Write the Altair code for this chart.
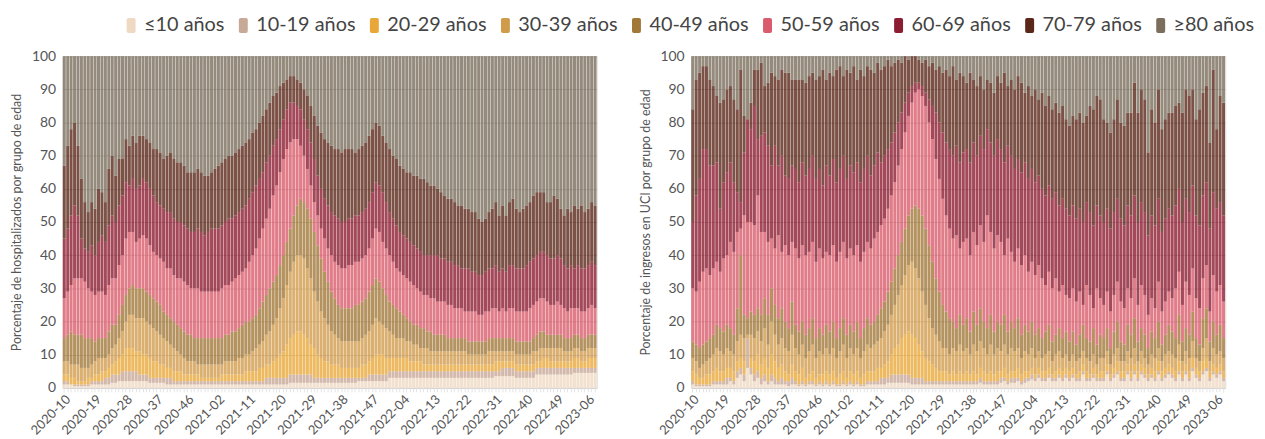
import json
import altair as alt
import pandas as pd

# ---------------- categories ----------------
GROUPS = ["≤10 años", "10-19 años", "20-29 años", "30-39 años", "40-49 años",
          "50-59 años", "60-69 años", "70-79 años", "≥80 años"]
COLORS = ["#f0d9c3", "#c8a897", "#e9a73a", "#d19b4c", "#a17838",
          "#d95b6c", "#8c1c31", "#5b2719", "#7b6e5d"]
TICK_LABELS = ["2020-10", "2020-19", "2020-28", "2020-37", "2020-46", "2021-02",
               "2021-11", "2021-20", "2021-29", "2021-38", "2021-47", "2022-04",
               "2022-13", "2022-22", "2022-31", "2022-40", "2022-49", "2023-06"]
YEAR_WEEKS = {2020: 53, 2021: 52, 2022: 52, 2023: 52}
N_WEEKS = 156
WEEKS = []
_y, _w = 2020, 10
while len(WEEKS) < N_WEEKS:
    WEEKS.append(f"{_y}-{_w:02d}")
    _w += 1
    if _w > YEAR_WEEKS[_y]:
        _y, _w = _y + 1, 1

# ------------- hospitalizations: cumulative upper edge of each age band (%) -------------
H_LE10 = [1,1,1,0.5,0.5,0.5,0.5,0.5,1,1, 1,1,1,1,1.5,1.5,2,2,2,2, 2,2,2,2,2,1.5,1.5,1.5,1.5,1.5,
          1,1,1,1,1,1,1,1,1,1, 1,1,1,1,1,1,1,1,1,1, 1,1,1,1,1,1,1,1,1,1,
          1,1,1,1,1,1,1.5,1.5,1.5,1.5, 1.5,1.5,1.5,1.5,1.5,1.5,1.5,1.5,1.5,1.5, 1.5,1.5,1.5,1.5,1.5,1.5,2,2,2,2,
          2,2,2,2,2,3,3,3,3,3, 3,3,3,3,3,3,3,3,3,3, 3,3,3,3,3,3,3,3,3,3,
          3,3,3,3,3,3,3.5,3.5,3.5,3.5, 3.5,3.5,3,3,3,3,3,3,4,4, 4,4,4,4,4,4,4,4,4,4.5,
          4.5,4.5,4.5,4.5,4.5,4.5]
H_10_19 = [2,2,1,1,1,1,1,1,2,2, 2,2,3,3,4,4,4,5,5,5, 5,5,4,4,4,3,3,3,3,3,
           3,3,2,2,2,2,2,2,2,2, 2,2,2,2,2,2,2,2,2,2, 2,2,2,2,2,2,2,2,2,3,
           3,3,3,3,3,3,4,4,4,4, 4,4,4,3,3,3,3,3,3,3, 3,3,3,3,3,3,3,3,3,4,
           4,4,4,4,4,5,5,5,5,5, 5,5,5,5,5,5,5,5,5,5, 5,5,5,5,5,5,5,5,5,5,
           5,5,5,5,5,5,5,5,6,6, 6,6,5,5,5,5,5,5,6,6, 6,6,6,6,6,6,6,6,6,6,
           6,6,6,6,6,6]
H_20_29 = [4,4,3,3,2,2,2,3,3,4, 4,5,5,6,7,8,9,10,12,12, 12,11,11,10,10,9,8,8,7,7,
           6,6,5,5,5,4,4,4,4,4, 3,3,3,3,3,3,4,4,4,4, 4,4,4,5,5,5,5,6,6,7,
           7,8,9,10,11,13,15,16,17,17, 16,15,13,12,10,9,8,8,7,7, 7,6,6,6,6,6,6,7,7,8,
           9,10,10,10,9,9,9,9,9,9, 9,8,8,8,8,7,7,7,7,7, 7,7,7,7,7,7,7,7,7,7,
           7,7,7,7,7,7,8,8,8,8, 8,8,7,7,7,7,7,7,8,8, 9,9,8,8,8,8,8,8,8,9,
           9,8,8,9,9,9]
H_30_39 = [8,8,7,7,7,6,6,6,7,8, 9,9,9,10,12,13,15,17,20,22, 22,21,21,21,20,19,18,17,16,15,
           14,13,12,11,10,9,8,8,8,7, 7,7,7,7,7,7,7,8,8,8, 8,9,9,10,10,11,12,13,14,16,
           17,19,21,24,27,31,35,38,40,40, 39,36,33,29,26,23,21,19,17,16, 15,14,14,14,14,14,14,15,16,17,
           19,21,20,19,18,17,16,15,15,15, 14,14,13,13,12,12,12,11,11,11, 11,11,11,11,11,11,11,11,10,10,
           10,10,10,10,11,11,11,11,11,11, 11,11,10,10,10,10,10,11,11,12, 12,12,12,12,12,12,11,11,11,12,
           12,11,11,12,12,12]
H_40_49 = [15,16,17,16,16,16,15,15,15,14, 15,15,15,17,19,19,22,25,28,30, 31,30,30,30,29,28,27,26,25,23,
           22,21,20,19,18,17,16,16,15,15, 15,15,15,15,15,15,15,16,16,17, 17,18,19,20,20,21,22,24,26,28,
           30,32,34,37,40,44,48,52,55,57, 56,54,51,47,43,39,35,32,29,27, 25,24,24,24,24,25,25,26,27,29,
           31,33,32,30,28,26,25,24,23,22, 21,20,19,19,18,18,17,17,16,16, 16,16,15,15,15,15,15,15,14,14,
           14,14,14,14,15,15,15,15,15,15, 15,15,14,14,14,14,14,15,16,17, 17,16,16,16,16,16,15,15,15,16,
           16,15,15,16,16,16]
H_50_59 = [27,29,31,33,33,33,32,30,29,28, 29,29,28,31,33,33,37,40,45,47, 47,44,45,46,45,43,41,40,39,38,
           36,36,34,33,33,32,31,30,30,30, 29,29,29,29,29,29,30,31,31,32, 33,34,35,36,38,40,42,45,48,51,
           54,58,61,65,69,72,74,75,75,73, 70,66,61,56,52,48,45,42,40,38, 37,36,36,37,37,38,38,39,40,42,
           45,48,47,44,42,40,38,36,35,34, 33,32,31,30,29,28,28,27,27,26, 26,26,25,25,24,24,24,23,23,23,
           23,22,22,23,23,24,24,23,24,23, 24,24,23,23,23,23,24,25,26,27, 27,26,25,25,26,25,24,23,24,24,
           24,23,23,24,25,24]
H_60_69 = [45,48,52,55,52,45,42,41,43,40, 44,46,44,49,52,50,55,58,62,61, 63,60,61,63,62,60,58,56,55,54,
           53,53,51,50,50,49,48,47,47,48, 47,46,47,48,48,48,49,50,51,51, 52,53,54,55,57,59,61,63,65,68,
           70,73,75,78,81,84,86,86,85,84, 81,78,74,69,64,60,57,55,53,52, 51,50,50,51,51,52,52,53,54,56,
           59,62,61,59,56,53,51,49,47,46, 45,44,43,42,41,40,40,40,40,40, 39,39,38,38,37,37,36,36,36,35,
           35,34,34,35,36,36,37,35,36,35, 37,37,36,36,36,37,38,39,40,41, 41,40,39,39,40,39,37,36,37,36,
           37,36,36,37,38,37]
H_70_79 = [67,73,78,80,73,63,56,53,56,54, 60,59,56,66,70,64,69,69,75,73, 76,74,76,76,75,74,72,72,71,69,
           70,71,69,68,68,67,65,65,65,66, 65,64,64,65,66,67,68,69,70,70, 71,72,73,74,75,77,78,80,82,84,
           86,88,89,91,92,93,94,94,93,92, 90,88,85,82,79,77,75,74,73,72, 72,71,72,72,72,71,72,73,74,76,
           78,80,79,76,74,72,70,69,67,66, 65,65,64,64,63,63,62,61,61,60, 59,58,57,57,56,55,55,54,54,53,
           53,51,50,51,53,54,56,52,55,52, 56,57,54,53,54,55,56,58,59,59, 59,56,56,58,57,54,52,54,53,55,
           54,55,53,54,56,55]

# ------------- ICU admissions: cumulative upper edge of each age band (%) -------------
U_LE10 = [1,0.5,0.5,0.5,0.5,0.5,1,1,1,1, 1,2,1,3,4,2,6,4,2,3, 1,2,1,2,1,1,1,1,0.5,1,
          1,0.5,1,0.5,1,1,0.5,1,0.5,1, 0.5,1,0.5,0.5,1,0.5,1,0.5,1,0.5, 0.5,1,1,1,1,1,1,1.5,1.5,1.5,
          1.5,1.5,1.5,1.5,1,1,1,1,1,1, 1,1,1,1,1,1,1,1,1,1, 1,1,1,1,1.5,1,1,1,1,1,
          1.5,2,1,1.5,1.5,2,1,1.5,2,2.5, 2,3,2,2,3,2,2,3,2,3, 2,3,2,2,4,2,2,3,2,2,
          2,4,2,3,4,2,2,4,2,4, 2,4,3,2,3,2,4,2,3,4, 3,2,4,2,4,2,5,3,2,4,
          5,2,4,3,4,2]
U_10_19 = [2,1,1,1,1,1,2,2,2,2, 3,3,2,5,6,4,15,6,4,5, 3,4,2,4,3,2,3,2,2,3,
           2,1,2,1,2,2,1,2,1,2, 1,2,1,1,2,1,2,1,2,1, 1,2,2,2,2,3,3,3,4,4,
           4,4,4,4,3,3,3,3,2,2, 2,2,2,2,2,2,2,2,2,2, 2,2,2,2,3,2,2,2,2,2,
           3,3,2,3,3,3,2,3,3,4, 3,4,3,3,4,3,3,4,3,4, 3,4,3,3,5,3,3,4,3,3,
           3,5,3,4,5,3,3,5,3,5, 3,5,4,3,4,3,5,3,4,5, 4,3,5,3,5,3,6,4,3,5,
           6,3,5,4,5,3]
U_20_29 = [5,4,3,3,4,4,5,6,5,5, 6,6,5,8,9,8,10,9,8,10, 7,9,6,10,8,6,7,5,4,7,
           5,4,6,3,4,5,3,4,4,5, 4,5,3,4,5,3,5,4,5,3, 4,5,5,5,6,6,7,8,10,12,
           13,15,16,17,16,15,13,11,9,8, 7,6,5,5,5,4,5,4,5,4, 5,4,5,4,6,5,4,5,4,5,
           5,6,4,5,5,6,4,5,5,6, 4,6,5,5,6,4,5,6,5,6, 5,6,4,5,7,5,4,6,4,5,
           5,7,4,6,8,5,5,7,5,7, 5,7,6,4,6,5,8,5,6,7, 6,5,8,5,7,5,9,6,5,8,
           9,5,7,6,7,5]
U_30_39 = [9,8,6,7,8,9,10,12,11,10, 12,11,10,14,16,15,16,16,15,17, 14,18,13,20,16,13,15,12,11,16,
           12,10,13,9,11,13,9,11,10,12, 10,12,9,11,13,9,12,10,12,9, 11,13,12,13,14,15,17,19,22,25,
           28,31,34,37,38,36,33,29,25,21, 18,16,14,12,12,10,12,11,13,11, 12,10,13,11,14,12,10,13,10,12,
           11,13,10,12,11,12,9,11,10,12, 9,11,9,10,11,8,10,11,9,10, 8,10,8,9,11,9,8,10,7,9,
           9,11,7,10,12,8,8,11,9,12, 8,11,9,7,10,9,12,8,10,11, 10,9,13,8,11,9,14,9,8,12,
           15,8,12,10,11,9]
U_40_49 = [14,13,12,13,14,15,16,19,18,17, 19,18,16,24,40,22,21,23,22,24, 22,27,22,30,25,21,24,20,18,26,
           19,17,20,16,18,21,15,18,16,19, 17,20,15,18,21,16,19,17,20,15, 18,21,19,20,22,24,26,29,32,36,
           40,44,48,52,54,55,54,52,48,43, 38,33,29,25,23,21,20,18,22,19, 21,17,23,19,24,20,18,22,17,20,
           19,22,17,20,18,21,16,19,17,20, 16,18,15,17,19,14,16,18,15,17, 14,17,13,16,19,15,14,18,13,16,
           15,18,12,17,20,14,13,19,16,21, 14,18,16,12,17,15,20,13,16,19, 17,15,22,14,18,16,23,15,13,21,
           24,14,20,16,19,15]
U_50_59 = [30,29,32,35,36,34,36,38,35,39, 40,44,41,47,48,52,50,50,49,58, 47,47,44,45,42,46,41,43,40,44,
           42,39,43,40,41,44,38,42,39,41, 40,43,38,41,44,39,42,40,43,38, 41,44,42,45,47,49,51,54,58,62,
           67,72,77,82,86,89,90,88,85,80, 75,69,63,57,52,48,45,46,42,44, 45,40,47,43,49,44,52,47,42,46,
           44,40,45,41,38,42,37,40,35,38, 34,37,33,31,35,30,33,29,31,28, 27,30,26,29,25,31,28,24,30,27,
           25,29,23,28,32,26,24,30,27,33, 25,31,28,22,27,24,32,23,26,29, 27,30,35,25,32,28,36,27,24,33,
           37,23,34,29,31,26]
U_60_69 = [50,58,63,72,72,67,67,68,54,62, 65,68,62,59,56,71,81,78,85,75, 76,77,73,67,73,67,70,64,63,67,
           66,62,68,64,66,70,63,66,61,67, 64,69,62,66,70,63,67,65,68,62, 66,70,64,67,71,68,70,72,74,77,
           80,83,86,89,91,92,92,91,89,87, 85,83,80,77,74,72,70,73,68,71, 72,68,74,70,76,72,78,74,70,75,
           72,68,73,70,66,69,65,68,63,66, 62,64,60,58,61,57,59,55,57,54, 52,55,51,54,50,56,53,49,55,52,
           50,54,48,53,57,51,49,55,52,58, 50,56,53,46,52,49,57,47,51,54, 52,55,60,50,57,53,61,52,49,58,
           62,48,59,54,56,52]
U_70_79 = [84,93,95,97,97,93,91,88,86,87, 90,91,87,84,96,82,72,86,96,96, 98,91,92,95,94,93,96,95,95,93,
           93,93,93,92,94,95,93,94,96,93, 95,94,96,97,94,96,95,97,93,96, 94,97,96,95,98,96,97,99,97,98,
           99,98,100,99,100,100,99,98,99,97, 98,96,97,95,96,94,97,93,95,94, 92,95,93,91,94,90,93,92,89,94,
           92,95,91,93,90,94,92,89,91,88, 90,87,89,85,88,84,86,83,85,81, 79,82,81,83,80,82,85,84,88,87,
           81,80,77,81,87,80,79,83,83,92, 83,90,87,71,84,80,90,78,81,83, 83,85,86,83,90,88,90,81,84,89,
           91,74,96,78,88,86]

HOSP_EDGES = [H_LE10, H_10_19, H_20_29, H_30_39, H_40_49, H_50_59, H_60_69, H_70_79]
ICU_EDGES = [U_LE10, U_10_19, U_20_29, U_30_39, U_40_49, U_50_59, U_60_69, U_70_79]


def build(edges):
    rows = []
    for i, wk in enumerate(WEEKS):
        prev = 0.0
        for g, name in enumerate(GROUPS):
            top = edges[g][i] if g < len(edges) else 100.0
            top = max(prev, min(100.0, top))
            rows.append({"week": wk, "group": name, "gidx": g, "value": top - prev})
            prev = top
    return pd.DataFrame(rows)


FONT = "Lato"
label_expr = "indexof(" + json.dumps(TICK_LABELS) + ", datum.value) >= 0 ? datum.value : ''"
legend_symbol = ("M-0.6,-0.75 Q-0.6,-1 -0.35,-1 L0.35,-1 Q0.6,-1 0.6,-0.75 L0.6,0.75 "
                 "Q0.6,1 0.35,1 L-0.35,1 Q-0.6,1 -0.6,0.75 Z")


def panel(df, ytitle):
    return alt.Chart(df).mark_bar(opacity=0.8).encode(
        x=alt.X("week:O", sort=WEEKS,
                scale=alt.Scale(paddingInner=0.12, paddingOuter=0.05),
                axis=alt.Axis(title=None, labelAngle=-45, labelExpr=label_expr,
                              labelOverlap=False, labelFontSize=13, labelColor="#555",
                              tickColor="#e4e4e4", tickSize=4, domain=False,
                              labelPadding=1)),
        y=alt.Y("value:Q", stack="zero",
                scale=alt.Scale(domain=[0, 100], nice=False),
                axis=alt.Axis(title=ytitle, values=list(range(0, 101, 10)), ticks=False,
                              domain=False, labelFontSize=14, labelColor="#555",
                              labelPadding=7, titleFontSize=12.5, titleColor="#555",
                              titleFontWeight="normal", titlePadding=8,
                              gridColor="#cfcfcf")),
        color=alt.Color("group:N", sort=GROUPS,
                        scale=alt.Scale(domain=GROUPS, range=COLORS),
                        legend=alt.Legend(title=None, orient="none", legendX=59, legendY=-41,
                                          direction="horizontal", columns=9,
                                          labelFontSize=20, labelColor="#444", labelFont=FONT,
                                          symbolType=legend_symbol, symbolSize=225,
                                          symbolOpacity=1, symbolStrokeWidth=0,
                                          columnPadding=8, labelOffset=3)),
        order=alt.Order("gidx:Q", sort="ascending"),
        tooltip=["week:N", "group:N", alt.Tooltip("value:Q", format=".1f")],
    ).properties(width=538, height=334)


left = panel(build(HOSP_EDGES), "Porcentaje de hospitalizados por grupo de edad")
right = panel(build(ICU_EDGES), "Porcentaje de ingresos en UCI por grupo de edad")

chart = alt.hconcat(left, right, spacing=34).properties(
    padding={"left": 2, "top": 6, "right": 2, "bottom": 1},
    background="white",
).configure_view(stroke="#dddddd").configure_axis(labelFont=FONT, titleFont=FONT)

chart.save("out.html", embed_options={"renderer": "svg", "actions": False})
